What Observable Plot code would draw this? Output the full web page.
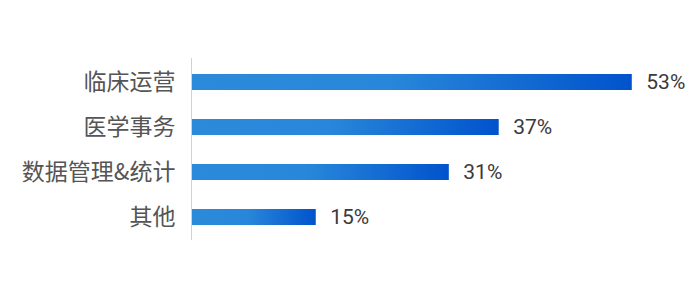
<!DOCTYPE html>
<html>
<head>
<meta charset="utf-8">
<script src="https://cdn.jsdelivr.net/npm/d3@7"></script>
<script src="https://cdn.jsdelivr.net/npm/@observablehq/plot@0.6"></script>
<style>
  html, body { margin: 0; padding: 0; background: #fff; }
</style>
</head>
<body>
<div id="chart"></div>
<script>
const categories = ["临床运营", "医学事务", "数据管理&统计", "其他"];
const values = [53, 37, 31, 15];
const labels = ["53%", "37%", "31%", "15%"];

const data = categories.map((c, i) => ({ category: c, value: values[i], label: labels[i] }));

const plot = Plot.plot({
  width: 700,
  height: 300,
  marginLeft: 191,
  marginRight: 10,
  marginTop: 58,
  marginBottom: 60,
  style: { background: "#fff", fontFamily: "'Noto Sans CJK SC', sans-serif" },
  x: { domain: [0, 60], axis: null },
  y: { domain: categories, paddingInner: 0.65, paddingOuter: 0.325, label: null, tickSize: 0, tickPadding: 16 },
  marks: [
    () => {
      const svg = d3.create("svg:defs");
      const g = svg.append("linearGradient").attr("id", "barGrad").attr("x1", "0").attr("x2", "1").attr("y1", "0").attr("y2", "0");
      g.append("stop").attr("offset", "0%").attr("stop-color", "#2b8ad9");
      g.append("stop").attr("offset", "45%").attr("stop-color", "#2887da");
      g.append("stop").attr("offset", "100%").attr("stop-color", "#0153cc");
      return svg.node();
    },
    Plot.barX(data, { x: "value", y: "category", fill: "url(#barGrad)" }),
    Plot.ruleX([0], { stroke: "#d0d0d0", strokeWidth: 1 }),
    Plot.axisY({ tickSize: 0, tickPadding: 16, fontSize: 23, fill: "#555", label: null }),
    Plot.text(data, { x: "value", y: "category", text: "label", textAnchor: "start", dx: 14, fontSize: 21, fill: "#3a3a3a", fontFamily: "Roboto, sans-serif" })
  ]
});
document.getElementById("chart").appendChild(plot);
</script>
</body>
</html>
